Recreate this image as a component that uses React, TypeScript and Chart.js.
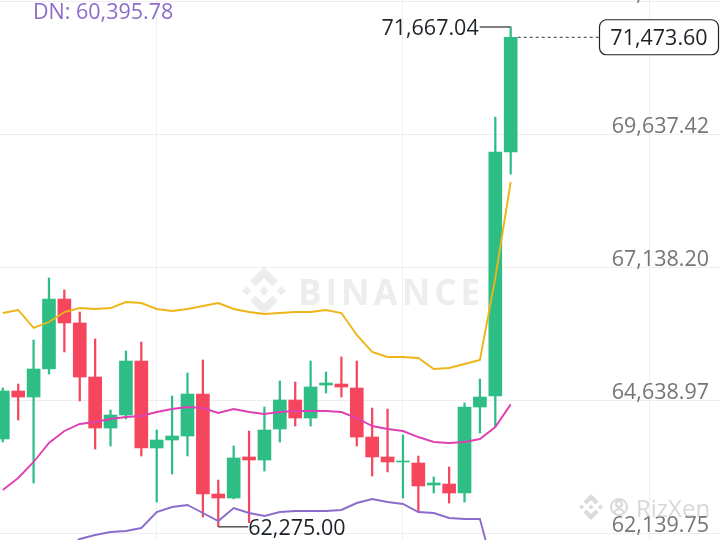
import React, { useEffect, useRef } from 'react';
import { Chart, registerables } from 'chart.js';

Chart.register(...registerables);

// candle data (index 0..33)
const opens = [
  63925, 64827, 64714, 65240, 66555, 66105, 65090, 64131, 64376, 65390,
  63756, 63906, 63981, 64770, 62891, 62816, 63587, 63530, 64113, 64658,
  64319, 64939, 64958, 64883, 63962, 63587, 63493, 63474, 63060, 63079,
  62910, 64526, 64733, 69318,
];
const highs = [
  64883, 64958, 65785, 66950, 66725, 66311, 65804, 64470, 65578, 65747,
  64094, 64733, 65165, 65409, 63154, 63793, 64075, 64526, 65015, 64996,
  65390, 65184, 65466, 65390, 64507, 64488, 64000, 63605, 63211, 63399,
  64601, 65052, 69975, 71667.04,
];
const lows = [
  63868, 64282, 63098, 65146, 65560, 64639, 63737, 63793, 64301, 63605,
  62741, 63267, 63605, 62459, 62275, 62800, 62350, 63323, 63868, 64169,
  64169, 64789, 64714, 63793, 63229, 63305, 62816, 62553, 62910, 62722,
  62741, 64037, 64150, 68904,
];
const closes = [
  64827, 64714, 65240, 66555, 66105, 65090, 64131, 64376, 65390, 63756,
  63906, 63981, 64770, 62891, 62816, 63568, 63530, 64094, 64658, 64319,
  64902, 64977, 64902, 63962, 63587, 63493, 63512, 63042, 63098, 62910,
  64526, 64714, 69318, 71473.6,
];

// bollinger bands
const bollUp = [
  66292, 66349, 66011, 66123, 66311, 66386, 66368, 66386, 66499, 66480,
  66368, 66330, 66368, 66424, 66480, 66368, 66311, 66274, 66292, 66311,
  66311, 66349, 66292, 65879, 65560, 65466, 65466, 65447, 65240, 65259,
  65334, 65409, 66950, 68754,
];
const bollMid = [
  62966, 63192, 63493, 63850, 64075, 64207, 64244, 64301, 64338, 64357,
  64432, 64488, 64526, 64507, 64413, 64488, 64432, 64395, 64432, 64451,
  64451, 64451, 64432, 64319, 64169, 64113, 64075, 63962, 63868, 63850,
  63868, 63925, 64150, 64575,
];
const bollDn = [
  59640, 60035, 60975, 61577, 61839, 62046, 62121, 62177, 62196, 62252,
  62553, 62647, 62685, 62534, 62384, 62628, 62534, 62478, 62553, 62572,
  62572, 62572, 62591, 62722, 62797, 62741, 62703, 62553, 62534, 62440,
  62421, 62421, 61350, 60395.78,
];

const priceTicks = [62139.75, 64638.97, 67138.2, 69637.42, 72136.64];
const timeGridIdx = [10, 26, 42];
const lowMarkIdx = 14;

const X_MIN = -0.182;
const X_MAX = 46.6;
const Y_MAX = 72174;
const Y_MIN = 62027;

const GREEN = '#2EBD85';
const RED = '#F6465D';
const UP_COLOR = '#EDB517';
const MID_COLOR = '#DE40B2';
const DN_COLOR = '#8B6CCA';
const FONT = '"Open Sans", sans-serif';

const fmt = (v: number) =>
  v.toLocaleString('en-US', { minimumFractionDigits: 2, maximumFractionDigits: 2 });

function drawLogo(ctx: CanvasRenderingContext2D, cx: number, cy: number, s: number, color: string) {
  ctx.save();
  ctx.fillStyle = color;
  const poly = (pts: number[][]) => {
    ctx.beginPath();
    pts.forEach(([px, py], k) => {
      if (k === 0) ctx.moveTo(cx + px * s, cy + py * s);
      else ctx.lineTo(cx + px * s, cy + py * s);
    });
    ctx.closePath();
    ctx.fill();
  };
  const diamond = (dx: number, dy: number, r: number) =>
    poly([[dx, dy - r], [dx + r, dy], [dx, dy + r], [dx - r, dy]]);
  diamond(0, 0, 0.2);
  diamond(-0.72, 0, 0.2);
  diamond(0.72, 0, 0.2);
  poly([[0, -1], [0.58, -0.42], [0.35, -0.19], [0, -0.54], [-0.35, -0.19], [-0.58, -0.42]]);
  poly([[0, 1], [0.58, 0.42], [0.35, 0.19], [0, 0.54], [-0.35, 0.19], [-0.58, 0.42]]);
  ctx.restore();
}

const overlayPlugin = {
  id: 'overlay',
  beforeDatasetsDraw(chart: any) {
    const ctx: CanvasRenderingContext2D = chart.ctx;
    // BINANCE watermark
    drawLogo(ctx, 264, 291, 24, '#EDEDED');
    ctx.save();
    ctx.fillStyle = '#EDEDED';
    ctx.font = `bold 35px ${FONT}`;
    (ctx as any).letterSpacing = '4px';
    ctx.textAlign = 'left';
    ctx.textBaseline = 'alphabetic';
    ctx.fillText('BINANCE', 298, 305);
    ctx.restore();
  },
  afterDatasetsDraw(chart: any) {
    const ctx: CanvasRenderingContext2D = chart.ctx;
    const xs = chart.scales.x;
    const ys = chart.scales.y;
    const last = closes.length - 1;

    ctx.save();
    // price axis labels
    ctx.font = `21.5px ${FONT}`;
    ctx.fillStyle = '#757575';
    ctx.textAlign = 'right';
    ctx.textBaseline = 'alphabetic';
    priceTicks.forEach(v => {
      ctx.fillText(fmt(v), 709, ys.getPixelForValue(v) - 2);
    });

    // high marker
    const xh = xs.getPixelForValue(last);
    const yh = ys.getPixelForValue(highs[last]);
    ctx.strokeStyle = '#555';
    ctx.lineWidth = 1.5;
    ctx.beginPath();
    ctx.moveTo(xh, yh);
    ctx.lineTo(xh - 31, yh);
    ctx.stroke();
    ctx.fillStyle = '#1E2329';
    ctx.textAlign = 'right';
    ctx.fillText(fmt(highs[last]), xh - 32, yh + 8);

    // low marker
    const xl = xs.getPixelForValue(lowMarkIdx);
    const yl = ys.getPixelForValue(lows[lowMarkIdx]);
    ctx.beginPath();
    ctx.moveTo(xl, yl);
    ctx.lineTo(xl + 30, yl);
    ctx.stroke();
    ctx.textAlign = 'left';
    ctx.fillText(fmt(lows[lowMarkIdx]), xl + 30, yl + 8);

    // last price line and box
    const yc = ys.getPixelForValue(closes[last]);
    ctx.setLineDash([3, 3]);
    ctx.lineWidth = 1;
    ctx.strokeStyle = '#333';
    ctx.beginPath();
    ctx.moveTo(xh + 7, yc);
    ctx.lineTo(599, yc);
    ctx.stroke();
    ctx.setLineDash([]);
    ctx.beginPath();
    (ctx as any).roundRect(599.5, yc - 17.5, 119, 35, 7);
    ctx.fillStyle = '#FFFFFF';
    ctx.fill();
    ctx.lineWidth = 1.2;
    ctx.strokeStyle = '#1E2329';
    ctx.stroke();
    ctx.fillStyle = '#1E2329';
    ctx.textAlign = 'center';
    ctx.fillText(fmt(closes[last]), 659, yc + 8);

    // DN legend (top-left)
    ctx.font = `21.5px ${FONT}`;
    ctx.fillStyle = DN_COLOR;
    ctx.textAlign = 'left';
    ctx.fillText(`DN: ${fmt(bollDn[last])}`, 33, 19);

    // bottom-right watermark
    drawLogo(ctx, 591, 507, 13, 'rgba(190,190,190,0.55)');
    ctx.strokeStyle = 'rgba(190,190,190,0.6)';
    ctx.lineWidth = 2;
    ctx.beginPath();
    ctx.arc(619, 507, 8, 0, Math.PI * 2);
    ctx.stroke();
    ctx.beginPath();
    ctx.arc(619, 504, 3, 0, Math.PI * 2);
    ctx.stroke();
    ctx.beginPath();
    ctx.arc(619, 514, 5, Math.PI * 1.1, Math.PI * 1.9);
    ctx.stroke();
    ctx.font = `24px ${FONT}`;
    ctx.fillStyle = 'rgba(190,190,190,0.6)';
    ctx.fillText('RizXen', 636, 517);
    ctx.restore();
  },
};

const App: React.FC = () => {
  const canvasRef = useRef<HTMLCanvasElement>(null);

  useEffect(() => {
    document.body.style.margin = '0';
    if (!canvasRef.current) return;
    const candleColors = closes.map((c, i) => (c >= opens[i] ? GREEN : RED));

    const chart = new Chart(canvasRef.current, {
      type: 'bar',
      data: {
        datasets: [
          {
            type: 'line',
            label: 'UP',
            data: bollUp.map((v, i) => ({ x: i, y: v })),
            borderColor: UP_COLOR,
            borderWidth: 1.9,
            pointRadius: 0,
            tension: 0,
            order: 0,
          },
          {
            type: 'line',
            label: 'MB',
            data: bollMid.map((v, i) => ({ x: i, y: v })),
            borderColor: MID_COLOR,
            borderWidth: 1.9,
            pointRadius: 0,
            tension: 0,
            order: 0,
          },
          {
            type: 'line',
            label: 'DN',
            data: bollDn.map((v, i) => ({ x: i, y: v })),
            borderColor: DN_COLOR,
            borderWidth: 1.9,
            pointRadius: 0,
            tension: 0,
            order: 0,
          },
          {
            type: 'bar',
            label: 'body',
            data: opens.map((o, i) => ({ x: i, y: [o, closes[i]] })),
            backgroundColor: candleColors,
            barThickness: 13,
            grouped: false,
            minBarLength: 1,
            order: 1,
          },
          {
            type: 'bar',
            label: 'wick',
            data: lows.map((l, i) => ({ x: i, y: [l, highs[i]] })),
            backgroundColor: candleColors,
            barThickness: 1.6,
            grouped: false,
            order: 2,
          },
        ] as any,
      },
      options: {
        animation: false,
        responsive: false,
        layout: { padding: 0, autoPadding: false } as any,
        plugins: {
          legend: { display: false },
          tooltip: { enabled: false },
        },
        scales: {
          x: {
            type: 'linear',
            min: X_MIN,
            max: X_MAX,
            offset: false,
            ticks: { display: false },
            grid: { color: '#F0F0F0', drawTicks: false, offset: false, lineWidth: 1 },
            border: { display: false },
            afterBuildTicks: (s: any) => {
              s.ticks = timeGridIdx.map(v => ({ value: v }));
            },
          },
          y: {
            type: 'linear',
            position: 'right',
            min: Y_MIN,
            max: Y_MAX,
            ticks: { display: false },
            grid: { color: '#EEEEEE', drawTicks: false, lineWidth: 1 },
            border: { display: false },
            afterBuildTicks: (s: any) => {
              s.ticks = priceTicks.map(v => ({ value: v }));
            },
          },
        },
      },
      plugins: [overlayPlugin],
    });

    return () => { chart.destroy(); };
  }, []);

  return (
    <div style={{ width: 720, height: 540, position: 'relative', background: '#fff' }}>
      <canvas ref={canvasRef} width={720} height={540} />
    </div>
  );
};

export default App;
